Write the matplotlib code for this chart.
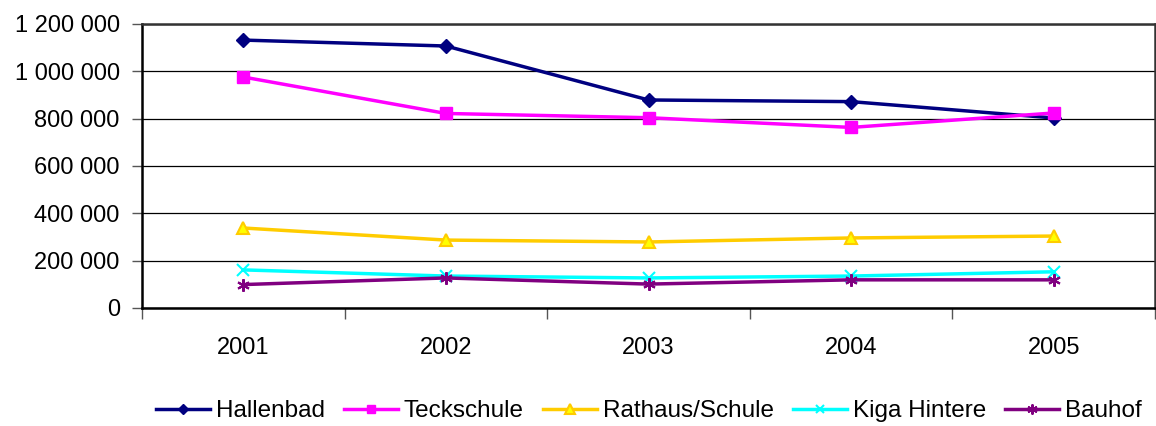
import matplotlib
matplotlib.use("Agg")
import matplotlib.pyplot as plt
from matplotlib.ticker import FuncFormatter, FixedLocator

plt.rcParams['font.family'] = ['Liberation Sans', 'DejaVu Sans']

years = ['2001', '2002', '2003', '2004', '2005']
hallenbad = [1132000, 1107000, 879000, 872000, 803000]
teckschule = [976000, 822000, 804000, 763000, 824000]
rathaus = [338000, 287000, 279000, 296000, 304000]
kiga = [161000, 135000, 127000, 135000, 153000]
bauhof = [99000, 127000, 101000, 119000, 119000]

series = [
    ('Hallenbad', hallenbad, dict(color='#000080', marker='D', markersize=7, mfc='#000080', mec='#000080')),
    ('Teckschule', teckschule, dict(color='#FF00FF', marker='s', markersize=8, mfc='#FF00FF', mec='#FF00FF')),
    ('Rathaus/Schule', rathaus, dict(color='#FFCC00', marker='^', markersize=9, mfc='#FFFF00', mec='#FFCC00', mew=1.5)),
    ('Kiga Hintere', kiga, dict(color='#00FFFF', marker='x', markersize=8, mec='#00FFFF', mew=1.5)),
    ('Bauhof', bauhof, dict(color='#800080', marker=(6, 2, 0), markersize=9, mec='#800080', mew=1.5)),
]

fig = plt.figure(figsize=(11.56, 4.26), dpi=100)
ax = fig.add_axes([142/1156, 118/426, (1155-142)/1156, (308-24)/426])

x = list(range(len(years)))
handles = []
for name, vals, st in series:
    h, = ax.plot(x, vals, lw=2.5, label=name, **st)
    handles.append(h)

ax.set_ylim(0, 1200000)
ax.set_xlim(-0.5, len(years) - 0.5)
ax.set_yticks(range(0, 1200001, 200000))
ax.yaxis.set_major_formatter(FuncFormatter(lambda v, p: f"{int(v):,}".replace(',', ' ')))
ax.grid(axis='y', color='black', lw=0.9)
ax.set_axisbelow(True)

ax.xaxis.set_major_locator(FixedLocator([i - 0.5 for i in range(len(years) + 1)]))
ax.xaxis.set_minor_locator(FixedLocator(x))
ax.set_xticklabels([''] * (len(years) + 1))
ax.set_xticklabels(years, minor=True)
ax.tick_params(axis='x', which='major', length=8, width=1, color='#555555', direction='out')
ax.tick_params(axis='x', which='minor', length=0, pad=21, labelsize=17)
ax.tick_params(axis='y', length=7, width=1, color='#555555', labelsize=17, pad=9)

for side in ['left', 'bottom']:
    ax.spines[side].set_linewidth(1.8)
    ax.spines[side].set_color('black')
for side in ['top', 'right']:
    ax.spines[side].set_linewidth(1.8)
    ax.spines[side].set_color('#333333')

fig.legend(handles=handles, loc='center', bbox_to_anchor=(649/1156, 1 - 411/426), ncol=5,
           frameon=False, fontsize=17.5, handlelength=2.2, handletextpad=0.25, columnspacing=0.8,
           borderaxespad=0, markerscale=0.8)

fig.savefig('out.png', dpi=100)
